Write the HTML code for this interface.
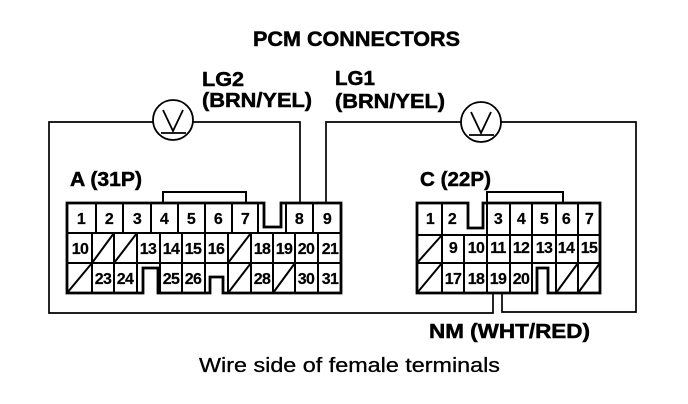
<!DOCTYPE html>
<html><head><meta charset="utf-8"><style>
html,body{margin:0;padding:0;background:#fff}
svg{display:block}
text{font-family:"Liberation Sans",sans-serif;fill:#000}
.b{font-weight:bold;stroke:#000;stroke-width:.5}
.r{stroke:#000;stroke-width:.3}
.n{font-weight:bold;font-size:16px;letter-spacing:-.6px;text-anchor:middle;stroke:#000;stroke-width:.2}
.w{fill:none;stroke:#000;stroke-width:1.7}
.c{fill:none;stroke:#000;stroke-width:2.8}
.d{fill:none;stroke:#000;stroke-width:2}
</style></head><body>
<svg width="688" height="404" viewBox="0 0 688 404" xmlns="http://www.w3.org/2000/svg">
<text class="b" x="253" y="46" font-size="21" textLength="207" lengthAdjust="spacingAndGlyphs">PCM CONNECTORS</text>
<text class="b" x="202" y="86" font-size="20" textLength="42" lengthAdjust="spacingAndGlyphs">LG2</text>
<text class="b" x="202" y="107" font-size="20" textLength="110" lengthAdjust="spacingAndGlyphs">(BRN/YEL)</text>
<text class="b" x="335" y="85" font-size="20" textLength="40" lengthAdjust="spacingAndGlyphs">LG1</text>
<text class="b" x="335" y="108" font-size="20" textLength="110" lengthAdjust="spacingAndGlyphs">(BRN/YEL)</text>
<text class="b" x="70" y="186" font-size="20" textLength="72" lengthAdjust="spacingAndGlyphs">A (31P)</text>
<text class="b" x="420" y="186" font-size="20" textLength="71" lengthAdjust="spacingAndGlyphs">C (22P)</text>
<text class="b" x="429" y="338" font-size="20" textLength="161" lengthAdjust="spacingAndGlyphs">NM (WHT/RED)</text>
<text class="r" x="199" y="372" font-size="20" textLength="301" lengthAdjust="spacingAndGlyphs">Wire side of female terminals</text>

<!-- wires -->
<path class="w" d="M153 122H49V313H493V293M193 122H300V203"/>
<path class="w" d="M461 122H326V203M501 122H636V312H502V293"/>
<g fill="none" stroke="#000" stroke-width="1.8">
<circle cx="173" cy="120" r="20"/>
<path d="M163 110L173 131L183 110M161 133H186"/>
<circle cx="481" cy="122" r="20"/>
<path d="M471 112L481 133L491 112M469 135H494"/>
</g>

<!-- connector A -->
<path class="c" d="M67 203H264V227H281V203H341V293H223V277H210V293H158V268H143V293H67Z"/>
<path class="d" d="M163 203V192H246V203"/>
<path class="d" d="M96 203V233M123 203V233M151 203V233M178 203V233M205 203V233M232 203V233M258 203V233M286 203V233M313 203V233"/>
<path class="d" d="M67 233H341M67 263H341"/>
<path class="d" d="M92 233V293M114 233V293M137 233V293M160 233V293M182 233V293M205 233V293M228 233V293M251 233V293M273 233V293M295 233V293M318 233V293"/>
<path class="d" d="M92 263L114 233M114 263L137 233M228 263L251 233M67 293L92 263M228 293L251 263M273 293L295 263"/>
<g>
<text class="n" x="81" y="224">1</text><text class="n" x="109" y="224">2</text><text class="n" x="137" y="224">3</text><text class="n" x="164" y="224">4</text><text class="n" x="191" y="224">5</text><text class="n" x="218" y="224">6</text><text class="n" x="245" y="224">7</text><text class="n" x="299" y="224">8</text><text class="n" x="327" y="224">9</text>
<text class="n" x="80" y="254">10</text><text class="n" x="148" y="254">13</text><text class="n" x="171" y="254">14</text><text class="n" x="193" y="254">15</text><text class="n" x="216" y="254">16</text><text class="n" x="262" y="254">18</text><text class="n" x="284" y="254">19</text><text class="n" x="306" y="254">20</text><text class="n" x="330" y="254">21</text>
<text class="n" x="103" y="284">23</text><text class="n" x="125" y="284">24</text><text class="n" x="171" y="284">25</text><text class="n" x="193" y="284">26</text><text class="n" x="262" y="284">28</text><text class="n" x="306" y="284">30</text><text class="n" x="330" y="284">31</text>
</g>

<!-- connector C -->
<path class="c" d="M417 203H468V228H483V203H600V293H548V268H537V293H417Z"/>
<path class="d" d="M487 203V192H563V203"/>
<path class="d" d="M442 203V235M487 203V235M510 203V235M532 203V235M556 203V235M578 203V235"/>
<path class="d" d="M417 235H600M417 263H600"/>
<path class="d" d="M442 235V293M464 235V293M487 235V293M510 235V293M532 235V293M556 235V293M578 235V293"/>
<path class="d" d="M417 263L442 235M417 293L442 263M556 293L578 263M578 293L600 263"/>
<g>
<text class="n" x="430" y="224">1</text><text class="n" x="452" y="224">2</text><text class="n" x="498" y="224">3</text><text class="n" x="521" y="224">4</text><text class="n" x="544" y="224">5</text><text class="n" x="566" y="224">6</text><text class="n" x="589" y="224">7</text>
<text class="n" x="453" y="253">9</text><text class="n" x="476" y="253">10</text><text class="n" x="498" y="253">11</text><text class="n" x="521" y="253">12</text><text class="n" x="544" y="253">13</text><text class="n" x="566" y="253">14</text><text class="n" x="589" y="253">15</text>
<text class="n" x="453" y="284">17</text><text class="n" x="476" y="284">18</text><text class="n" x="498" y="284">19</text><text class="n" x="521" y="284">20</text>
</g>
</svg>
</body></html>
